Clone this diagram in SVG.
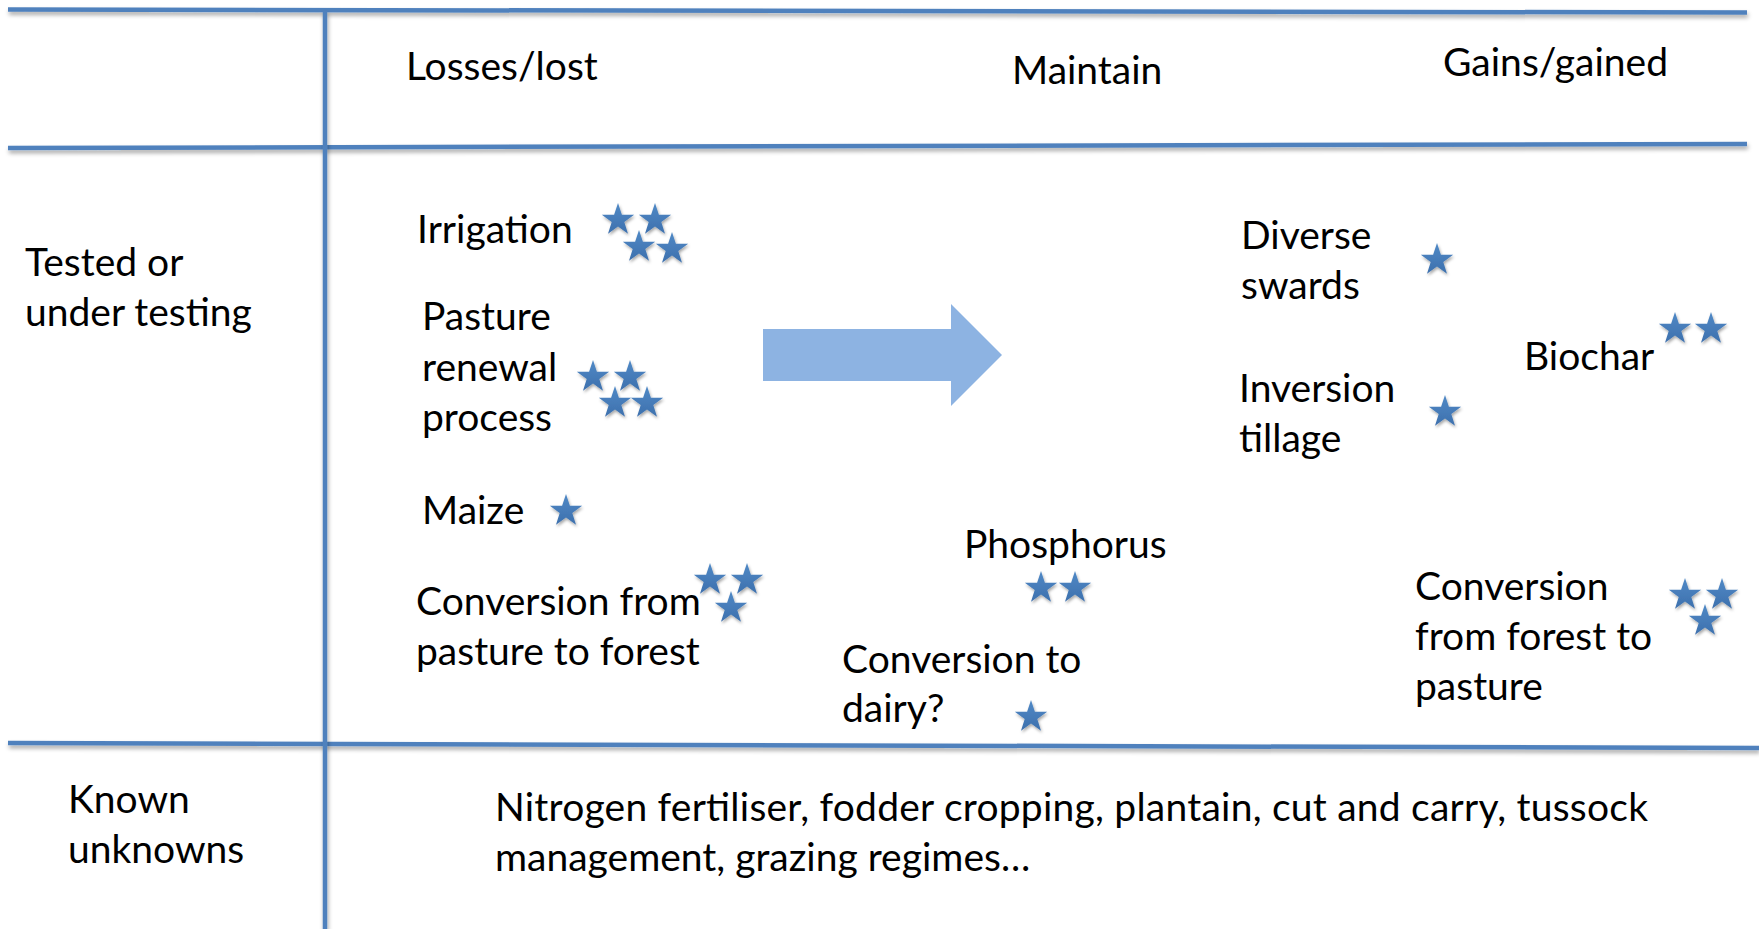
<svg xmlns="http://www.w3.org/2000/svg" width="1759" height="929" viewBox="0 0 1759 929">
<style>
.t{font-family:Lato,"Open Sans","Liberation Sans",sans-serif;font-size:39px;fill:#000}
.ln{stroke:#4f81bd;stroke-width:4.5;fill:none;filter:url(#sh)}
.st{fill:url(#sg);filter:url(#ssh)}
</style>
<defs>
<filter id="sh" filterUnits="userSpaceOnUse" x="0" y="0" width="1759" height="929">
<feDropShadow dx="1" dy="3" stdDeviation="2" flood-color="#000" flood-opacity="0.35"/>
</filter>
<filter id="ssh" x="-50%" y="-50%" width="200%" height="200%">
<feDropShadow dx="1" dy="2" stdDeviation="1.5" flood-color="#000" flood-opacity="0.35"/>
</filter>
<linearGradient id="sg" x1="0" y1="0" x2="0" y2="1">
<stop offset="0" stop-color="#5089c6"/>
<stop offset="1" stop-color="#3d70ad"/>
</linearGradient>
<path id="star" d="M0,-17 L3.9,-5.35 L16.17,-5.25 L6.3,2.05 L9.99,13.75 L0,6.6 L-9.99,13.75 L-6.3,2.05 L-16.17,-5.25 L-3.9,-5.35 Z"/>
</defs>
<g id="connectors">
<line class="ln" x1="8" y1="9.5" x2="1747" y2="12.5"/>
<line class="ln" x1="8" y1="148" x2="1747" y2="144"/>
<line class="ln" x1="8" y1="743" x2="1759" y2="748"/>
<line class="ln" x1="325" y1="11" x2="325" y2="929"/>
</g>
<g id="headers">
<text class="t" x="406" y="80">Losses/lost</text>
<text class="t" x="1012" y="84">Maintain</text>
<text class="t" x="1443" y="76">Gains/gained</text>
</g>
<g id="row-tested">
<text class="t" x="25" y="276">Tested or</text>
<text class="t" x="25" y="326">under testing</text>
</g>
<g id="row-known">
<text class="t" x="68" y="813">Known</text>
<text class="t" x="68" y="863">unknowns</text>
</g>
<g id="known-list">
<text class="t" x="495" y="821" textLength="1153" lengthAdjust="spacing">Nitrogen fertiliser, fodder cropping, plantain, cut and carry, tussock</text>
<text class="t" x="495" y="871">management, grazing regimes…</text>
</g>
<g id="irrigation">
<text class="t" x="417" y="243">Irrigation</text>
<use href="#star" class="st" x="618" y="220"/>
<use href="#star" class="st" x="655" y="220"/>
<use href="#star" class="st" x="639" y="247"/>
<use href="#star" class="st" x="672" y="249"/>
</g>
<g id="pasture-renewal">
<text class="t" x="422" y="330">Pasture</text>
<text class="t" x="422" y="381">renewal</text>
<text class="t" x="422" y="431">process</text>
<use href="#star" class="st" x="593" y="377"/>
<use href="#star" class="st" x="630" y="377"/>
<use href="#star" class="st" x="615" y="403"/>
<use href="#star" class="st" x="647" y="403"/>
</g>
<g id="maize">
<text class="t" x="422" y="524">Maize</text>
<use href="#star" class="st" x="566" y="511"/>
</g>
<g id="pasture-to-forest">
<text class="t" x="416" y="615">Conversion from</text>
<text class="t" x="416" y="665">pasture to forest</text>
<use href="#star" class="st" x="710" y="580"/>
<use href="#star" class="st" x="747" y="580"/>
<use href="#star" class="st" x="731" y="608"/>
</g>
<g id="arrow">
<polygon points="763,329 951,329 951,304 1002,355 951,406 951,381 763,381" fill="#8db3e2"/>
</g>
<g id="phosphorus">
<text class="t" x="964" y="558">Phosphorus</text>
<use href="#star" class="st" x="1041" y="588"/>
<use href="#star" class="st" x="1075" y="588"/>
</g>
<g id="dairy">
<text class="t" x="842" y="673">Conversion to</text>
<text class="t" x="842" y="722">dairy?</text>
<use href="#star" class="st" x="1031" y="717"/>
</g>
<g id="diverse-swards">
<text class="t" x="1241" y="249">Diverse</text>
<text class="t" x="1241" y="299">swards</text>
<use href="#star" class="st" x="1437" y="260"/>
</g>
<g id="inversion-tillage">
<text class="t" x="1239" y="402">Inversion</text>
<text class="t" x="1239" y="452">tillage</text>
<use href="#star" class="st" x="1445" y="412"/>
</g>
<g id="biochar">
<text class="t" x="1524" y="370">Biochar</text>
<use href="#star" class="st" x="1675" y="329"/>
<use href="#star" class="st" x="1711" y="329"/>
</g>
<g id="forest-to-pasture">
<text class="t" x="1415" y="600">Conversion</text>
<text class="t" x="1415" y="650">from forest to</text>
<text class="t" x="1415" y="700">pasture</text>
<use href="#star" class="st" x="1685" y="595"/>
<use href="#star" class="st" x="1722" y="595"/>
<use href="#star" class="st" x="1705" y="621"/>
</g>
</svg>
